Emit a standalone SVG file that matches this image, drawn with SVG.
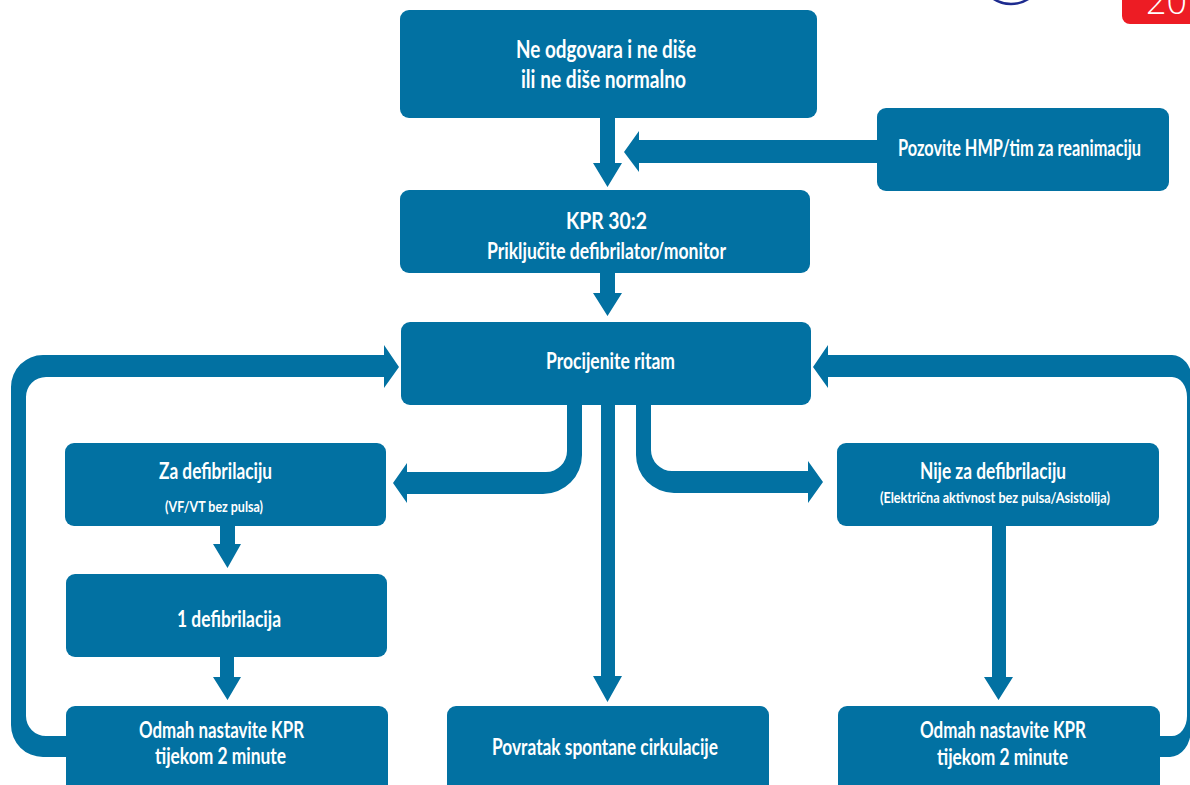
<svg xmlns="http://www.w3.org/2000/svg" width="1190" height="785" viewBox="0 0 1190 785">
<style>
.box{fill:#0271a2}
.con{fill:#0271a2}
text{fill:#fff;font-family:Lato,"Open Sans","Liberation Sans",sans-serif;font-weight:700;text-anchor:middle}
.l{font-size:25px}
.m{font-size:22.5px}
.s{font-size:16px}
.year{font-family:"Open Sans",sans-serif;font-size:36px;font-weight:300;text-anchor:start}
</style>
<rect width="1190" height="785" fill="#fff"/>
<g id="corner-fragments">
<circle cx="1011" cy="-28" r="32" fill="none" stroke="#1c2a8e" stroke-width="2.5"/>
<rect x="1122" y="-10" width="80" height="34" rx="8" fill="#ed1c24"/>
<text class="year" x="1146" y="14">20</text>
</g>
<g id="connectors">
<path class="con" d="M600 118H615V163H622L607.5 187L593 163H600Z"/>
<path class="con" d="M877 140V163H639V172L624 152L639 131V140Z"/>
<path class="con" d="M600 273H615V293H622L607.5 316L593 293H600Z"/>
<path class="con" d="M66 757H43A32 32 0 0 1 11 725V387A32 32 0 0 1 43 355H384V345L399 367L384 388V377H46A20 20 0 0 0 26 397V716A20 20 0 0 0 46 736H66Z"/>
<path class="con" d="M1160 757H1170A21 28 0 0 0 1191 729V380H1192A20 25 0 0 0 1172 355H828V345L813 367L828 388V377H1172A15 20 0 0 1 1187 397V716A15 20 0 0 1 1172 736H1160Z"/>
<path class="con" d="M582 405V455A39 39 0 0 1 543 494H407V503L393 483L407 463V472H546A21 21 0 0 0 567 451V405Z"/>
<path class="con" d="M601 405H615V676H622L607.5 702L593 676H601Z"/>
<path class="con" d="M636 405V455A38 38 0 0 0 674 493H808V503L823 482L808 461V471H672A21 21 0 0 1 651 450V405Z"/>
<path class="con" d="M220 526H235V544H241L227.5 568L213 544H220Z"/>
<path class="con" d="M220 657H234V677H241L227.5 700L213 677H220Z"/>
<path class="con" d="M992 526H1006V677H1013L998.5 700L984 677H992Z"/>
</g>
<g id="n-start"><rect class="box" x="400" y="10" width="417" height="108" rx="9"/>
<text class="l" x="606" y="58" textLength="180" lengthAdjust="spacingAndGlyphs">Ne odgovara i ne diše</text>
<text class="l" x="603.5" y="88" textLength="165" lengthAdjust="spacingAndGlyphs">ili ne diše normalno</text></g>
<g id="n-call"><rect class="box" x="877" y="108" width="292" height="83" rx="9"/>
<text class="m" x="1019.5" y="156" textLength="243" lengthAdjust="spacingAndGlyphs">Pozovite HMP/tim za reanimaciju</text></g>
<g id="n-kpr"><rect class="box" x="400" y="190" width="410" height="83" rx="9"/>
<text class="m" x="606.5" y="229" textLength="81" lengthAdjust="spacingAndGlyphs">KPR 30:2</text>
<text class="m" x="606.5" y="259" textLength="239" lengthAdjust="spacingAndGlyphs">Priključite defibrilator/monitor</text></g>
<g id="n-rhythm"><rect class="box" x="401" y="322" width="410" height="83" rx="9"/>
<text class="m" x="610.5" y="369" textLength="129" lengthAdjust="spacingAndGlyphs">Procijenite ritam</text></g>
<g id="n-shock"><rect class="box" x="65" y="443" width="321" height="83" rx="9"/>
<text class="m" x="215.5" y="479" textLength="113" lengthAdjust="spacingAndGlyphs">Za defibrilaciju</text>
<text class="s" x="214" y="512" textLength="98" lengthAdjust="spacingAndGlyphs">(VF/VT bez pulsa)</text></g>
<g id="n-one"><rect class="box" x="66" y="574" width="321" height="83" rx="9"/>
<text class="m" x="229" y="627" textLength="104" lengthAdjust="spacingAndGlyphs">1 defibrilacija</text></g>
<g id="n-cpr-left"><rect class="box" x="66" y="706" width="322" height="95" rx="9"/>
<text class="m" x="221.5" y="738" textLength="165" lengthAdjust="spacingAndGlyphs">Odmah nastavite KPR</text>
<text class="m" x="220.5" y="764" textLength="131" lengthAdjust="spacingAndGlyphs">tijekom 2 minute</text></g>
<g id="n-rosc"><rect class="box" x="447" y="706" width="322" height="95" rx="9"/>
<text class="m" x="605" y="755" textLength="226" lengthAdjust="spacingAndGlyphs">Povratak spontane cirkulacije</text></g>
<g id="n-noshock"><rect class="box" x="837" y="443" width="322" height="83" rx="9"/>
<text class="m" x="993" y="479" textLength="146" lengthAdjust="spacingAndGlyphs">Nije za defibrilaciju</text>
<text class="s" x="995" y="503" textLength="230" lengthAdjust="spacingAndGlyphs">(Električna aktivnost bez pulsa/Asistolija)</text></g>
<g id="n-cpr-right"><rect class="box" x="838" y="706" width="322" height="95" rx="9"/>
<text class="m" x="1003" y="738" textLength="166" lengthAdjust="spacingAndGlyphs">Odmah nastavite KPR</text>
<text class="m" x="1002.5" y="765" textLength="131" lengthAdjust="spacingAndGlyphs">tijekom 2 minute</text></g>
</svg>
